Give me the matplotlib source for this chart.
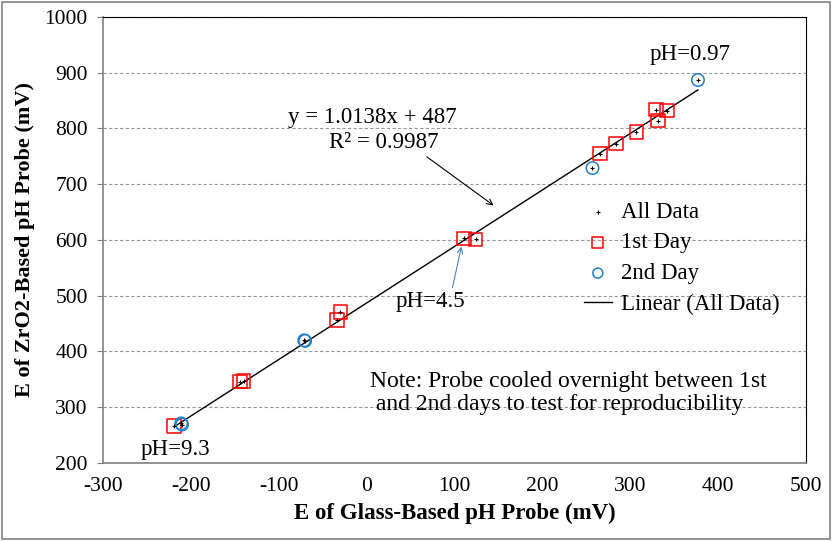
import matplotlib
matplotlib.use('Agg')
import matplotlib.pyplot as plt
import numpy as np
from matplotlib.patches import Rectangle

# data (mV)
day1_x = [-219, -144, -140, -34, -30, 110.5, 124, 265.5, 284, 307, 329, 331.5, 341.5]
day1_y = [266, 346, 347, 456, 471, 603, 601, 755, 773, 794, 834, 814, 832]
day2_x = [-210, -211, -70, -71, 257, 377]
day2_y = [269, 271, 419, 420, 729, 887]
slope = 1.0138
intercept = 487
r2 = 0.9987

all_x = np.array(day1_x + day2_x)
all_y = np.array(day1_y + day2_y)

plt.rcParams['font.family'] = ['Liberation Serif', 'DejaVu Serif']

fig = plt.figure(figsize=(8.32, 5.41), dpi=100)
ax = fig.add_axes([0.1238, 0.1442, 0.845, 0.8244])

blue = '#2080D0'
fs = 16.5
ax.scatter(day1_x, day1_y, marker='s', s=95, facecolors='none', edgecolors='red', linewidths=1.1, label='1st Day', zorder=3)
ax.scatter(day2_x, day2_y, marker='o', s=80, facecolors='none', edgecolors=blue, linewidths=1.1, label='2nd Day', zorder=3)
ax.scatter(all_x, all_y, marker='+', s=10, color='black', linewidths=0.8, label='All Data', zorder=4)

xs = np.array([all_x.min(), all_x.max()])
ax.plot(xs, slope * xs + intercept, color='black', lw=1.0, label='Linear (All Data)', zorder=2)

ax.set_xlim(-300, 500)
ax.set_ylim(200, 1000)
ax.set_xticks(np.arange(-300, 501, 100))
ax.set_yticks(np.arange(200, 1001, 100))
ax.set_xticklabels([str(v) for v in range(-300, 501, 100)])
ax.tick_params(axis='both', labelsize=15.5)
ax.tick_params(axis='x', length=0, pad=10)
ax.tick_params(axis='y', length=4, color='#808080', pad=7)
ax.yaxis.grid(True, linestyle=(0, (3, 2)), color='#999999', lw=0.8)
ax.set_axisbelow(True)
for s in ['top', 'right']:
    ax.spines[s].set_color('black')
    ax.spines[s].set_linewidth(0.8)
for s in ['left', 'bottom']:
    ax.spines[s].set_color('#808080')
    ax.spines[s].set_linewidth(1.2)

ax.set_xlabel('E of Glass-Based pH Probe (mV)', fontsize=16.5, fontweight='bold', labelpad=5)
ax.set_ylabel('E of ZrO2-Based pH Probe (mV)', fontsize=16, fontweight='bold', labelpad=7)

handles, labels = ax.get_legend_handles_labels()
order = [2, 0, 1, 3]
ax.legend([handles[i] for i in order], [labels[i] for i in order], loc='upper left',
          bbox_to_anchor=(0.655, 0.632), frameon=False, fontsize=fs, handlelength=1.2,
          handletextpad=0.4, labelspacing=0.42, markerscale=0.8)

ax.text(7, 819, f'y = {slope}x + {intercept}', fontsize=fs, ha='center', va='center')
ax.text(20, 774, f'R² = {r2}', fontsize=fs, ha='center', va='center')
ax.annotate('', xy=(147, 659), xytext=(66, 752),
            arrowprops=dict(arrowstyle='->', color='black', lw=0.8))

ax.text(-218, 225, 'pH=9.3', fontsize=fs, ha='center', va='center')
ax.text(72, 489, 'pH=4.5', fontsize=fs, ha='center', va='center')
ax.annotate('', xy=(108.5, 593), xytext=(97, 510),
            arrowprops=dict(arrowstyle='->', color='#4F81BD', lw=0.8))
ax.text(368, 932, 'pH=0.97', fontsize=fs, ha='center', va='center')

ax.text(4, 325, 'Note: Probe cooled overnight between 1st\n and 2nd days to test for reproducibility',
        fontsize=17, ha='left', va='center', linespacing=1.12)

fig.patches.append(Rectangle((0.002, 0.003), 0.995, 0.994, transform=fig.transFigure,
                             fill=False, edgecolor='#808080', lw=1.2))

fig.savefig('out.png', dpi=100)
